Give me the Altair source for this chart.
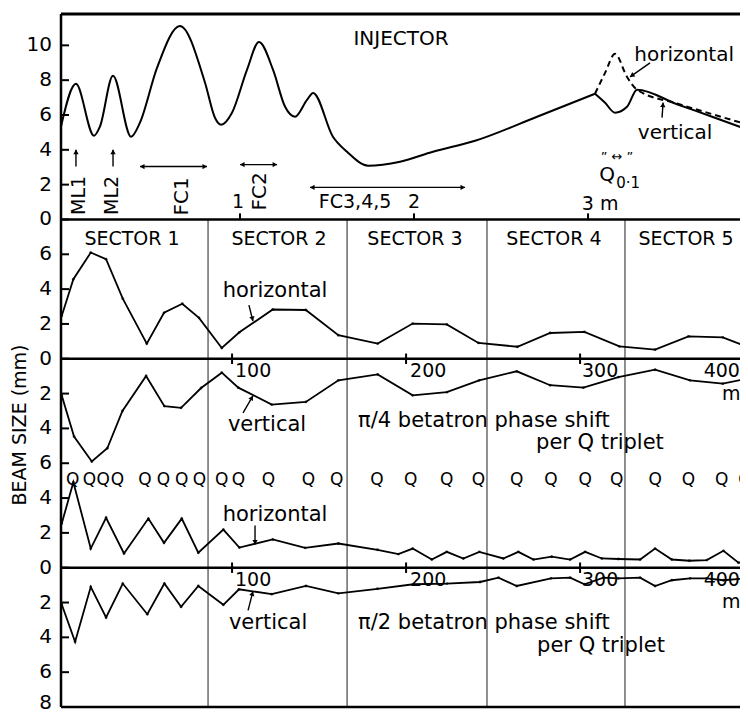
import math
import altair as alt
import pandas as pd

# ---------------- data ----------------
# Injector: distance along injector (m) and beam size (mm)
inj_common_m = [-0.029, 0.057, 0.161, 0.195, 0.270, 0.374, 0.425, 0.523, 0.655, 0.799,
                 0.856, 0.891, 0.954, 1.040, 1.109, 1.190, 1.259, 1.316, 1.385, 1.420,
                 1.534, 1.615, 1.736, 1.920, 2.109, 2.351, 2.707, 3.040]
inj_common_v = [5.33, 7.79, 4.81, 5.33, 8.25, 4.75, 5.56, 8.71, 11.11, 7.85,
                5.84, 5.44, 6.13, 8.59, 10.19, 8.59, 6.47, 5.90, 6.87, 7.27,
                4.75, 3.89, 3.09, 3.32, 3.89, 4.52, 5.90, 7.22]
inj_h_m = [3.040, 3.098, 3.155, 3.224, 3.282, 3.511, 3.713, 3.920]
inj_h_v = [7.22, 8.42, 9.51, 8.19, 7.45, 6.66, 6.05, 5.44]
inj_v_m = [3.040, 3.098, 3.155, 3.224, 3.282, 3.511, 3.713, 3.920]
inj_v_v = [7.22, 6.70, 6.13, 6.47, 7.45, 6.62, 5.90, 5.15]

# Transport line, pi/4 betatron phase shift per Q triplet (distance in m, size in mm)
pi4_h_x = [2.1, 8.8, 18.8, 27.6, 37.2, 51.0, 60.9, 71.4, 81.0, 94.1, 104.2, 123.4, 142.4,
           161.1, 183.7, 203.8, 223.4, 241.6, 264.0, 282.8, 302.5, 322.6, 343.1, 362.3, 382.0, 396.4]
pi4_h_v = [2.45, 4.57, 6.10, 5.72, 3.45, 0.87, 2.64, 3.16, 2.35, 0.62, 1.52, 2.83, 2.80,
           1.35, 0.87, 2.02, 1.97, 0.91, 0.69, 1.48, 1.54, 0.71, 0.52, 1.29, 1.23, 0.68]
pi4_v_x = [2.1, 9.2, 19.4, 28.3, 37.0, 50.6, 61.1, 70.7, 82.2, 94.1, 103.6, 122.8, 142.4,
           161.1, 183.7, 203.8, 223.4, 242.0, 263.6, 282.8, 301.9, 322.0, 343.1, 363.2, 382.0, 396.4]
pi4_v_v = [2.10, 4.47, 5.90, 5.14, 3.00, 0.99, 2.72, 2.82, 1.68, 0.80, 1.66, 2.63, 2.48,
           1.24, 0.90, 2.10, 1.92, 1.24, 0.72, 1.52, 1.66, 1.05, 0.63, 1.24, 1.43, 1.14]

# Transport line, pi/2 betatron phase shift per Q triplet
pi2_h_x = [2.1, 8.8, 18.8, 27.6, 37.9, 51.9, 60.9, 71.1, 80.6, 95.0, 104.2, 123.4, 142.0,
           161.1, 183.6, 195.6, 203.8, 214.8, 223.4, 232.9, 242.1, 255.9, 264.5, 273.2, 283.7,
           294.3, 302.9, 312.5, 322.0, 334.5, 343.1, 352.7, 362.8, 372.8, 382.4, 391.0, 396.4]
pi2_h_v = [2.53, 4.91, 1.10, 2.87, 0.82, 2.82, 1.43, 2.82, 0.86, 2.19, 1.16, 1.62, 1.14,
           1.39, 1.03, 0.78, 1.10, 0.47, 0.91, 0.53, 0.91, 0.53, 0.91, 0.47, 0.63,
           0.47, 0.91, 0.53, 0.50, 0.47, 1.10, 0.47, 0.40, 0.44, 0.97, 0.29, 0.29]
pi2_v_x = [2.1, 9.8, 18.8, 27.6, 37.2, 51.3, 61.1, 70.7, 80.6, 95.0, 104.0, 122.8, 142.5,
           161.1, 183.6, 204.2, 223.4, 242.5, 253.1, 263.6, 283.3, 294.3, 302.5, 313.4, 322.0,
           334.5, 343.1, 352.7, 363.2, 372.8, 382.4, 396.4]
pi2_v_v = [2.10, 4.25, 1.10, 2.86, 0.91, 2.67, 0.91, 2.25, 1.05, 2.13, 1.24, 1.52, 1.05,
           1.47, 1.21, 0.95, 0.91, 0.82, 0.57, 1.05, 0.61, 0.57, 0.95, 0.57, 0.61,
           0.57, 1.05, 0.72, 0.61, 0.61, 0.72, 0.61]

# Q triplet positions (m)
q_x = [8.4, 18.0, 26.0, 34.1, 50.0, 60.5, 71.1, 81.2, 94.1, 103.6, 120.9, 143.9, 160.2,
       183.2, 202.7, 223.4, 241.6, 263.6, 283.3, 302.9, 321.1, 343.1, 362.2, 381.4, 394.8]

sector_names = ["SECTOR 1", "SECTOR 2", "SECTOR 3", "SECTOR 4", "SECTOR 5"]
sector_bounds = [86.2, 166.1, 246.5, 325.8]

# tick labels
inj_ticks = [0, 2, 4, 6, 8, 10]
pi4_h_ticks = [0, 2, 4, 6]
pi4_v_ticks = [2, 4, 6]
pi2_h_ticks = [0, 2, 4]
pi2_v_ticks = [2, 4, 6, 8]
dist_ticks = [100, 200, 300]
dist_labels = ["100", "200", "300", "400"]
inj_m_ticks = [1, 2, 3]

# ---------------- layout ----------------
INJ0, PI4_0, PI2_0 = 28, 20, 8          # baseline of each panel on the stacked scale
INJ_X0 = 4.57                           # injector 0 m on the transport-line scale
XDOM = [1.7, 391.9]
GDOM = [0, 39.8]
W, H = 679, 693
PXX = W / (XDOM[1] - XDOM[0])
PXY = H / (GDOM[1] - GDOM[0])
FONT = "DejaVu Sans"

xs = alt.Scale(domain=XDOM, nice=False, zero=False)
ys = alt.Scale(domain=GDOM, nice=False, zero=False)


def X(f="X"):
    return alt.X(f"{f}:Q", scale=xs, axis=None)


def Y(f="G"):
    return alt.Y(f"{f}:Q", scale=ys, axis=None)


def inj_x(m):
    return INJ_X0 + 100 * m


# ---- curves ----
rows = []


def add(name, xv, vv, base, sign, xf=lambda v: v):
    for i, (a, b) in enumerate(zip(xv, vv)):
        rows.append({"series": name, "i": i, "X": xf(a), "G": base + sign * b})


add("inj_common", inj_common_m, inj_common_v, INJ0, 1, inj_x)
add("inj_vertical", inj_v_m, inj_v_v, INJ0, 1, inj_x)
add("pi4_h", pi4_h_x, pi4_h_v, PI4_0, 1)
add("pi4_v", pi4_v_x, pi4_v_v, PI4_0, -1)
add("pi2_h", pi2_h_x, pi2_h_v, PI2_0, 1)
add("pi2_v", pi2_v_x, pi2_v_v, PI2_0, -1)
lines = pd.DataFrame(rows)
inj_df = lines[lines.series.str.startswith("inj")]
tl_df = lines[~lines.series.str.startswith("inj")]
dash_df = pd.DataFrame({"X": [inj_x(m) for m in inj_h_m], "G": [INJ0 + v for v in inj_h_v],
                        "i": list(range(len(inj_h_m)))})

inj_lines = alt.Chart(inj_df).mark_line(color="black", strokeWidth=2, interpolate="monotone",
                                        clip=True).encode(
    x=X(), y=Y(), detail="series:N", order="i:Q")
dash_line = alt.Chart(dash_df).mark_line(color="black", strokeWidth=2, interpolate="monotone",
                                         strokeDash=[6, 4], clip=True).encode(
    x=X(), y=Y(), order="i:Q")
tl_lines = alt.Chart(tl_df).mark_line(color="black", strokeWidth=1.8, clip=True).encode(
    x=X(), y=Y(), detail="series:N", order="i:Q")
tl_pts = alt.Chart(tl_df).mark_point(color="black", filled=True, size=8, clip=True).encode(
    x=X(), y=Y())

# ---- frame ----
one = pd.DataFrame({"a": [0]})
top_line = alt.Chart(one).mark_rule(color="black", strokeWidth=3).encode(
    x=alt.value(0), x2=alt.value(W), y=alt.value(0))
left_line = alt.Chart(one).mark_rule(color="black", strokeWidth=2.5).encode(
    x=alt.value(0), y=alt.value(0), y2=alt.value(H))
base_df = pd.DataFrame({"G": [INJ0, PI4_0, PI2_0, 0]})
base_lines = alt.Chart(base_df).mark_rule(color="black", strokeWidth=2.6).encode(
    x=alt.value(0), x2=alt.value(W), y=Y())
sec_df = pd.DataFrame({"X": sector_bounds, "G": [0] * 4, "G2": [INJ0] * 4})
sec_lines = alt.Chart(sec_df).mark_rule(color="#333333", strokeWidth=1.1).encode(
    x=X(), y=Y(), y2="G2:Q")

# ---- left axis ticks & labels ----
trows = []
for t in inj_ticks:
    trows.append({"G": INJ0 + t, "lab": str(t)})
for t in pi4_h_ticks:
    trows.append({"G": PI4_0 + t, "lab": str(t)})
for t in pi4_v_ticks:
    trows.append({"G": PI4_0 - t, "lab": str(t)})
for t in pi2_h_ticks:
    trows.append({"G": PI2_0 + t, "lab": str(t)})
for t in pi2_v_ticks:
    trows.append({"G": PI2_0 - t, "lab": str(t)})
tick_df = pd.DataFrame(trows)
yticks = alt.Chart(tick_df).mark_rule(color="black", strokeWidth=2).encode(
    x=alt.value(0), x2=alt.value(8), y=Y())
ylabels = alt.Chart(tick_df[tick_df.G > 0]).mark_text(
    font=FONT, fontSize=20, align="right", baseline="middle", color="black").encode(
    x=alt.value(-9), y=Y(), text="lab:N")
ylabel_bottom = alt.Chart(tick_df[tick_df.G == 0]).mark_text(
    font=FONT, fontSize=20, align="right", baseline="alphabetic", dy=2, color="black").encode(
    x=alt.value(-9), y=Y(), text="lab:N")
ytitle = alt.Chart(one).mark_text(font=FONT, fontSize=19, angle=270, align="center",
                                  baseline="middle", color="black",
                                  text="BEAM SIZE (mm)").encode(
    x=alt.value(-41), y=alt.value(411))

# ---- distance ticks on baselines ----
drows = []
for d in dist_ticks:
    for g in (PI4_0, PI2_0):
        drows.append({"X": d, "G": g - 0.3, "G2": g + 0.3})
for m in inj_m_ticks:
    drows.append({"X": inj_x(m), "G": INJ0, "G2": INJ0 + 0.35})
dticks = alt.Chart(pd.DataFrame(drows)).mark_rule(color="black", strokeWidth=2).encode(
    x=X(), y=Y(), y2="G2:Q")

# ---- text annotations ----
label_x = [101.7, 202.3, 301.1, 371.0]
ann_c = [
    ("INJECTOR", 197.1, 38.37, 20, 0),
    ("horizontal", 359.8, 37.45, 20, 0),
    ("vertical", 354.6, 32.99, 20, 0),
    ("\u201d  \u2194  \u201d", 321.2, 31.61, 13, 0),
    ("Q", 315.5, 30.58, 20, 0),
    ("0\u00b71", 327.6, 30.12, 15, 0),
    ("3 m", 311.5, 28.86, 19, 0),
    ("ML1", 12.0, 29.38, 19, 270),
    ("ML2", 31.0, 29.38, 19, 270),
    ("FC1", 71.2, 29.32, 20, 270),
    ("FC2", 116.1, 29.61, 20, 270),
    ("1", 103.4, 29.03, 19, 0),
    ("FC3,4,5", 170.7, 29.03, 19, 0),
    ("2", 204.6, 29.03, 19, 0),
    ("horizontal", 124.7, 23.88, 21, 0),
    ("vertical", 120.1, 16.21, 21, 0),
    ("horizontal", 124.7, 11.0, 21, 0),
    ("vertical", 120.7, 4.81, 21, 0),
    ("m", 386.8, 17.95, 19, 0),
    ("m", 386.8, 6.04, 19, 0),
]
for nm, xx in zip(sector_names, [42.5, 127.0, 205.1, 285.0, 360.9]):
    ann_c.append((nm, xx, 26.86, 19, 0))
ann_l = [
    ("\u03c0/4 betatron phase shift", 172.4, 16.45, 21, 0),
    ("per Q triplet", 274.7, 15.15, 21, 0),
    ("\u03c0/2 betatron phase shift", 172.4, 4.85, 21, 0),
    ("per Q triplet", 275.3, 3.50, 21, 0),
]
for lab, xx in zip(dist_labels, label_x):
    ann_l.append((lab, xx, 19.30, 19, 0))
    ann_l.append((lab, xx, 7.27, 19, 0))

cols = ["text", "X", "G", "fs", "ang"]
txt_c = alt.Chart(pd.DataFrame(ann_c, columns=cols)).mark_text(
    font=FONT, align="center", baseline="middle", color="black").encode(
    x=X(), y=Y(), text="text:N", size=alt.Size("fs:Q", scale=None),
    angle=alt.Angle("ang:Q", scale=None))
txt_l = alt.Chart(pd.DataFrame(ann_l, columns=cols)).mark_text(
    font=FONT, align="left", baseline="middle", color="black").encode(
    x=X(), y=Y(), text="text:N", size=alt.Size("fs:Q", scale=None))
q_df = pd.DataFrame({"X": q_x, "G": [13.06] * len(q_x), "t": ["Q"] * len(q_x)})
q_txt = alt.Chart(q_df).mark_text(font=FONT, fontSize=17, align="center", baseline="middle",
                                  color="black", clip=True).encode(x=X(), y=Y(), text="t:N")

# ---- arrows ----
arrows = [
    (340.2, 36.99, 328.7, 36.19, False),
    (347.1, 33.85, 347.7, 34.71, False),
    (10.3, 31.04, 10.3, 32.01, False),
    (31.6, 31.04, 31.6, 32.01, False),
    (47.1, 31.04, 85.6, 31.04, True),
    (104.6, 31.15, 125.9, 31.15, True),
    (144.8, 29.84, 233.9, 29.84, True),
    (109.7, 23.08, 112.0, 22.17, False),
    (106.3, 16.89, 112.0, 17.87, False),
    (113.2, 10.42, 113.2, 9.33, False),
    (109.2, 5.55, 112.0, 6.64, False),
]
arr_rows, head_rows = [], []
for x1, g1, x2, g2, both in arrows:
    arr_rows.append({"X": x1, "G": g1, "X2": x2, "G2": g2})
    ends = [(x1, g1, x2, g2)]
    if both:
        ends.append((x2, g2, x1, g1))
    for a1, b1, a2, b2 in ends:
        dx = (a2 - a1) * PXX
        dy = (b2 - b1) * PXY
        th = math.atan2(dx, dy)
        head_rows.append({"X": a2 - 3 * math.sin(th) / PXX, "G": b2 - 3 * math.cos(th) / PXY,
                          "ang": math.degrees(th) % 360})
arr_lines = alt.Chart(pd.DataFrame(arr_rows)).mark_rule(color="black", strokeWidth=1.4).encode(
    x=X(), y=Y(), x2="X2:Q", y2="G2:Q")
arr_heads = alt.Chart(pd.DataFrame(head_rows)).mark_point(
    shape="triangle", filled=True, size=28, color="black", opacity=1).encode(
    x=X(), y=Y(), angle=alt.Angle("ang:Q", scale=None))

chart = alt.layer(
    sec_lines, base_lines, top_line, left_line, dticks, yticks, ylabels, ylabel_bottom, ytitle,
    inj_lines, dash_line, tl_lines, tl_pts, q_txt, txt_c, txt_l, arr_lines, arr_heads,
).properties(
    width=W, height=H,
    padding={"left": 53, "top": 6, "right": 0, "bottom": 3},
    autosize=alt.AutoSizeParams(type="none"),
).configure_view(stroke=None).configure(background="white")

chart.save("out.html", embed_options={"renderer": "svg", "actions": False})
